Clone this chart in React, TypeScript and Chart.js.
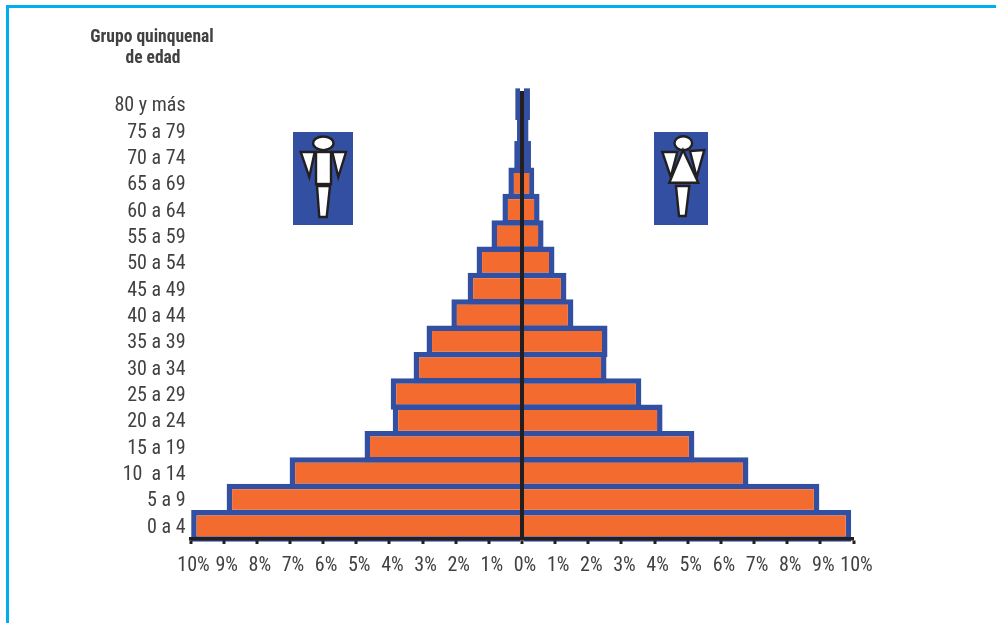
import React, { useEffect, useRef } from "react";
import { Chart, registerables } from "chart.js";

Chart.register(...registerables);

const ageGroups = ["80 y más", "75 a 79", "70 a 74", "65 a 69", "60 a 64", "55 a 59", "50 a 54", "45 a 49", "40 a 44", "35 a 39", "30 a 34", "25 a 29", "20 a 24", "15 a 19", "10  a 14", "5 a 9", "0 a 4"];
const hombres = [0.2, 0.15, 0.23, 0.41, 0.59, 0.92, 1.37, 1.64, 2.13, 2.88, 3.27, 3.96, 3.9, 4.75, 7.01, 8.91, 9.98];
const mujeres = [0.24, 0.19, 0.27, 0.37, 0.53, 0.65, 0.98, 1.34, 1.55, 2.58, 2.55, 3.6, 4.24, 5.2, 6.83, 8.97, 9.93];

const ORANGE = "#f36b2e";
const BLUE = "#334fa2";
const INK = "#231f20";
const TEXT = "#414042";
const FONT = 'Roboto, "Open Sans", sans-serif';
const THIN = 0.28;

const strokeProps = { stroke: INK, strokeWidth: 2.4, fill: "#fff", strokeLinejoin: "miter" as const };

function Figures() {
  return (
    <svg width={996} height={623} style={{ position: "absolute", left: 0, top: 0, pointerEvents: "none" }}>
      <rect x={293} y={132} width={60} height={93} fill={BLUE} />
      <ellipse cx={323.3} cy={143.3} rx={10.2} ry={6.8} {...strokeProps} />
      <polygon points="300.7,152 314.7,152 309.3,177 " {...strokeProps} />
      <polygon points="332.3,152 346,152 338.3,177" {...strokeProps} />
      <rect x={316} y={152} width={15} height={32} {...strokeProps} />
      <line x1={316} y1={184.5} x2={331} y2={184.5} stroke={INK} strokeWidth={3} />
      <polygon points="317,186 330,186 326.7,217 319.3,217" {...strokeProps} />

      <rect x={654} y={132} width={54} height={93} fill={BLUE} />
      <ellipse cx={683.3} cy={143.3} rx={8.8} ry={7} {...strokeProps} />
      <polygon points="662.3,152 677.3,152 670.7,177" {...strokeProps} />
      <polygon points="690,151 704.3,150 696.7,177" {...strokeProps} />
      <polygon points="683,150 698.3,182.7 669.3,182.7" {...strokeProps} />
      <polygon points="676,186 689.3,186 685.7,216 679,216" {...strokeProps} />
    </svg>
  );
}

const condensedText = {
  id: "condensedText",
  beforeLayout(chart: any) { chart.ctx.fontStretch = "condensed"; },
  beforeDraw(chart: any) { chart.ctx.fontStretch = "condensed"; },
};

export default function App() {
  const ref = useRef<HTMLCanvasElement>(null);

  useEffect(() => {
    document.body.style.margin = "0";
    if (!ref.current) return;
    const chart = new Chart(ref.current, {
      type: "bar",
      plugins: [condensedText],
      data: {
        labels: ageGroups,
        datasets: [
          { label: "Hombres", data: hombres.map((v) => -v) },
          { label: "Mujeres", data: mujeres },
        ].map((d) => ({
          ...d,
          backgroundColor: (c: any) => (Math.abs(c.raw) < THIN ? BLUE : ORANGE),
          borderColor: BLUE,
          borderWidth: (c: any) => (Math.abs(c.raw) < THIN ? 0 : 5.5),
          borderSkipped: "start" as const,
          barPercentage: 1.2,
          categoryPercentage: 1,
          clip: false,
        })),
      },
      options: {
        indexAxis: "y",
        responsive: false,
        animation: false,
        layout: { padding: { top: 91, right: 142.5, left: 0, bottom: 0 } },
        plugins: { legend: { display: false }, tooltip: { enabled: false } },
        scales: {
          x: {
            type: "linear",
            min: -10,
            max: 10,
            stacked: true,
            afterFit: (s: any) => { s.height = 84; },
            border: { display: true, color: INK, width: 3.5, z: 2 },
            grid: {
              z: 1,
              drawOnChartArea: true,
              drawTicks: true,
              tickLength: 5,
              tickWidth: 3,
              tickColor: INK,
              lineWidth: (c: any) => (c.tick && c.tick.value === 0 ? 4 : 0),
              color: (c: any) => (c.tick && c.tick.value === 0 ? INK : "rgba(0,0,0,0)"),
            },
            ticks: {
              stepSize: 1,
              padding: 10,
              labelOffset: 3,
              maxRotation: 0,
              autoSkip: false,
              color: TEXT,
              font: { family: FONT, size: 20 },
              callback: (v: any) => `${Math.abs(Number(v))}%`,
            },
          },
          y: {
            type: "category",
            stacked: true,
            afterFit: (s: any) => { s.width = 190.5; },
            border: { display: false },
            grid: { display: false, drawTicks: false },
            ticks: {
              padding: 5,
              labelOffset: 2,
              autoSkip: false,
              color: TEXT,
              font: { family: FONT, size: 20 },
            },
          },
        },
      },
    } as any);
    return () => chart.destroy();
  }, []);

  const titleStyle: React.CSSProperties = {
    position: "absolute",
    left: 60,
    width: 184,
    textAlign: "center",
    fontFamily: FONT,
    fontStretch: "condensed",
    fontWeight: 700,
    fontSize: 17.5,
    lineHeight: "20px",
    color: TEXT,
    whiteSpace: "nowrap",
  };

  return (
    <div style={{ position: "relative", width: 996, height: 623, overflow: "hidden", background: "#fff" }}>
      <canvas ref={ref} width={996} height={623} style={{ display: "block", position: "absolute", left: 0, top: 0 }} />
      <div style={{ position: "absolute", left: 6, top: 5, right: 0, height: 3, background: "#00aeef" }} />
      <div style={{ position: "absolute", left: 6, top: 5, bottom: 0, width: 3, background: "#00aeef" }} />
      <div style={{ ...titleStyle, top: 26 }}>Grupo quinquenal</div>
      <div style={{ ...titleStyle, top: 47, left: 61 }}>de edad</div>
      <Figures />
    </div>
  );
}
